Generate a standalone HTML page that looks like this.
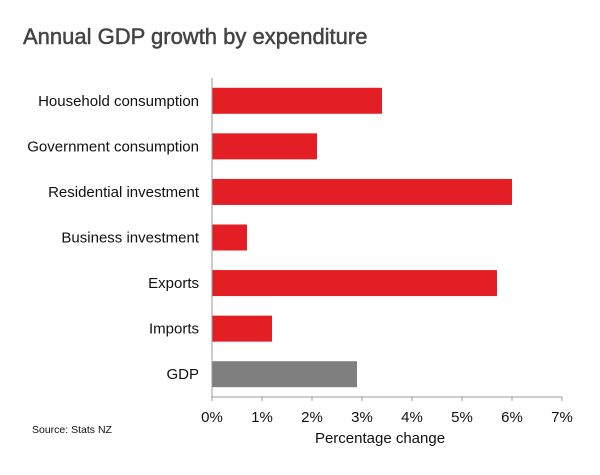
<!DOCTYPE html>
<html><head><meta charset="utf-8"><style>
body{margin:0;background:#fff;}
svg{display:block;font-family:"Liberation Sans",Arial,sans-serif;}
</style></head><body>
<svg id="chart" width="600" height="475">
<text x="23" y="44" font-size="22" fill="#444" stroke="#444" stroke-width="0.5">Annual GDP growth by expenditure</text>
<text x="32" y="433" font-size="10.5" fill="#111">Source: Stats NZ</text>
<text x="380" y="443" font-size="15" fill="#111" text-anchor="middle">Percentage change</text>
<g id="bars"></g><g id="axes"></g>
</svg>
<script>
const categories=["Household consumption","Government consumption","Residential investment","Business investment","Exports","Imports","GDP"];
const values=[3.4,2.1,6.0,0.7,5.7,1.2,2.9];
const tickValues=[0,1,2,3,4,5,6,7];
const tickLabels=["0%","1%","2%","3%","4%","5%","6%","7%"];
const NS="http://www.w3.org/2000/svg";
const x0=212,pxPer=50,topY=78,bottomY=397,band=(bottomY-topY)/categories.length,bh=26;
const xs=v=>x0+v*pxPer;
const yc=i=>topY+band*(i+0.5);
function mk(t,a,p){const e=document.createElementNS(NS,t);for(const k in a)e.setAttribute(k,a[k]);p.appendChild(e);return e;}
const bars=document.getElementById('bars'),axes=document.getElementById('axes');
categories.forEach((c,i)=>{
  const r=mk('rect',{x:xs(0),y:yc(i)-bh/2,width:xs(values[i])-xs(0),height:bh,fill:c==="GDP"?"#7f7f7f":"#e31e25"},bars);
  
  
  const t=mk('text',{x:199,y:yc(i)+5,'font-size':15,fill:'#111','text-anchor':'end'},bars);
  t.textContent=c;
  
  
});
const yl=mk('line',{x1:x0,x2:x0,y1:topY,y2:bottomY,stroke:'#999','stroke-width':1},axes);


const xl=mk('line',{x1:x0,x2:xs(7),y1:bottomY,y2:bottomY,stroke:'#999','stroke-width':1},axes);


tickValues.forEach((v,i)=>{
  const tk=mk('line',{x1:xs(v),x2:xs(v),y1:bottomY,y2:bottomY+4,stroke:'#999'},axes);
  
  
  const t=mk('text',{x:xs(v),y:422,'font-size':15,fill:'#111','text-anchor':'middle'},axes);
  t.textContent=tickLabels[i];
  
  
});
</script>
</body></html>
